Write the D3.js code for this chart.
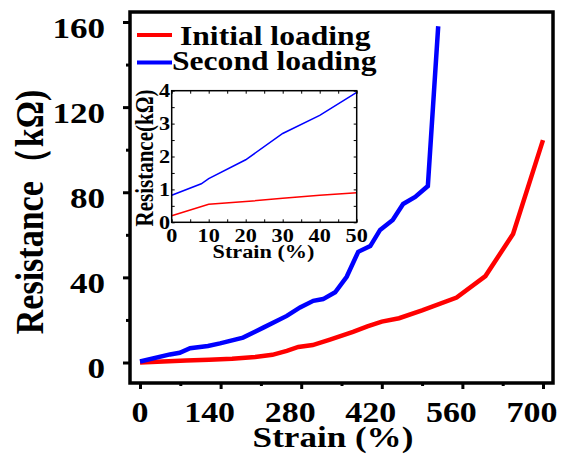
<!DOCTYPE html>
<html>
<head>
<meta charset="utf-8">
<script src="https://cdn.jsdelivr.net/npm/d3@7/dist/d3.min.js"></script>
<style>
  html, body { margin: 0; padding: 0; background: #fff; }
  svg { display: block; }
  text { font-family: "Liberation Serif", "Times New Roman", serif; font-weight: bold; fill: #000; }
</style>
</head>
<body>
<svg id="chart" width="564" height="457"></svg>
<script>
// Resistance vs. strain, initial and second loading
const seriesNames = ["Initial loading", "Second loading"];
const seriesColors = ["#ff0000", "#0000ff"];

const initialStrain = [0, 40, 80, 120, 160, 200, 230, 255, 275, 300, 330, 370, 395, 420, 450, 490, 550, 600, 648, 700];
const initialRes    = [0, 0.5, 0.9, 1.3, 1.8, 2.6, 3.6, 5.5, 7.3, 8.2, 10.8, 14.4, 17.0, 19.2, 20.8, 24.5, 30.5, 40.6, 60.4, 104.5];

const secondStrain = [0, 52, 69, 87, 118, 139, 179, 215, 255, 278, 301, 318, 339, 359, 379, 400, 417, 439, 457, 478, 500, 518];
const secondRes    = [0.5, 3.8, 4.6, 6.7, 7.8, 9.0, 11.7, 16.5, 21.9, 25.9, 29.0, 29.8, 33.0, 40.3, 52.0, 54.7, 62.3, 67.0, 74.5, 77.8, 82.9, 158];

const xTicks = [0, 140, 280, 420, 560, 700];
const yTicks = [0, 40, 80, 120, 160];

// inset: first 50 % of strain, resistance in kΩ
const insetStrain1 = [0, 10, 20, 30, 40, 50];
const insetRes1    = [0.2, 0.55, 0.63, 0.73, 0.82, 0.9];
const insetStrain2 = [0, 8, 10, 20, 30, 40, 50];
const insetRes2    = [0.82, 1.17, 1.33, 1.9, 2.7, 3.25, 3.95];
const insetXTicks = [0, 10, 20, 30, 40, 50];
const insetYTicks = [0, 1, 2, 3, 4];

const svg = d3.select("#chart");
const SX = 1.17; // horizontal glyph stretch

function label(g, x, y, str, size, anchor, rot) {
  return g.append("text")
    .attr("transform", `translate(${x},${y}) scale(${SX},1)` + (rot ? " rotate(-90)" : ""))
    .attr("font-size", size)
    .attr("text-anchor", anchor)
    .text(str);
}

// ---------- main panel ----------
const box = { l: 130, r: 553, t: 12, b: 383 };
const x = d3.scaleLinear().domain([-17.4, 717.4]).range([box.l, box.r]);
const y = d3.scaleLinear().domain([-9.63, 164.7]).range([box.b, box.t]);

const main = svg.append("g");

// outward ticks on left and bottom (major + minor)
const leftAxis = d3.axisLeft(y).tickValues(yTicks).tickSize(7).tickFormat("");
const leftMinor = d3.axisLeft(y).tickValues([20, 60, 100, 140]).tickSize(4).tickFormat("");
const botAxis = d3.axisBottom(x).tickValues(xTicks).tickSize(6).tickFormat("");
const botMinor = d3.axisBottom(x).tickValues([70, 210, 350, 490, 630]).tickSize(3).tickFormat("");

[[leftAxis, `translate(${box.l},0)`], [leftMinor, `translate(${box.l},0)`],
 [botAxis, `translate(0,${box.b})`], [botMinor, `translate(0,${box.b})`]].forEach(([ax, tr]) => {
  const g = main.append("g").attr("transform", tr).call(ax);
  g.select(".domain").remove();
  g.selectAll("line").attr("stroke", "#000").attr("stroke-width", 3);
});

// tick labels (x labels sit slightly left of their ticks, except zero)
yTicks.forEach(v => label(main, 105, y(v) + 15.5, String(v), 30, "end"));
xTicks.forEach(v => label(main, x(v) - (v === 0 ? 0 : 11), 422, String(v), 29, "middle"));

// axis titles
label(main, 333, 447, "Strain (%)", 30, "middle");
label(main, 43, 212, "Resistance（kΩ)", 34, "middle", true);

// series lines
const line = d3.line().x(d => x(d[0])).y(d => y(d[1]));
const mainData = [d3.zip(initialStrain, initialRes), d3.zip(secondStrain, secondRes)];
mainData.forEach((d, i) => {
  main.append("path").datum(d)
    .attr("d", line)
    .attr("fill", "none")
    .attr("stroke", seriesColors[i])
    .attr("stroke-width", 4.5)
    .attr("stroke-linejoin", "miter");
});

// frame
main.append("rect")
  .attr("x", box.l).attr("y", box.t)
  .attr("width", box.r - box.l).attr("height", box.b - box.t)
  .attr("fill", "none").attr("stroke", "#000").attr("stroke-width", 3.5);

// legend
const legY = [35, 62.5];
const legTextX = [180, 172];
const legBase = [45, 70];
seriesNames.forEach((name, i) => {
  main.append("line")
    .attr("x1", 137).attr("x2", 172).attr("y1", legY[i]).attr("y2", legY[i])
    .attr("stroke", seriesColors[i]).attr("stroke-width", 4);
  label(main, legTextX[i], legBase[i], name, 27, "start");
});

// ---------- inset ----------
const ib = { l: 171.7, r: 356.7, t: 90.7, b: 222.3 };
const ix = d3.scaleLinear().domain([0, 50]).range([ib.l, ib.r]);
const iy = d3.scaleLinear().domain([0, 4]).range([ib.b, ib.t]);
const inset = svg.append("g");

inset.append("rect")
  .attr("x", ib.l).attr("y", ib.t).attr("width", ib.r - ib.l).attr("height", ib.b - ib.t)
  .attr("fill", "#fff");

// inward ticks on all four sides
const ixT = d3.range(0, 50.01, 5);
const iyT = d3.range(0, 4.01, 0.5);
const tk = [
  [d3.axisBottom(ix).tickValues(ixT), `translate(0,${ib.t})`],
  [d3.axisTop(ix).tickValues(ixT), `translate(0,${ib.b})`],
  [d3.axisRight(iy).tickValues(iyT), `translate(${ib.l},0)`],
  [d3.axisLeft(iy).tickValues(iyT), `translate(${ib.r},0)`]
];
tk.forEach(([ax, tr]) => {
  const g = inset.append("g").attr("transform", tr).call(ax.tickSize(3).tickFormat(""));
  g.select(".domain").remove();
  g.selectAll("line").attr("stroke", "#000").attr("stroke-width", 1);
});

const iline = d3.line().x(d => ix(d[0])).y(d => iy(d[1]));
[d3.zip(insetStrain1, insetRes1), d3.zip(insetStrain2, insetRes2)].forEach((d, i) => {
  inset.append("path").datum(d)
    .attr("d", iline)
    .attr("fill", "none")
    .attr("stroke", seriesColors[i])
    .attr("stroke-width", 1.5);
});

inset.append("rect")
  .attr("x", ib.l).attr("y", ib.t).attr("width", ib.r - ib.l).attr("height", ib.b - ib.t)
  .attr("fill", "none").attr("stroke", "#000").attr("stroke-width", 1.5);

insetYTicks.forEach(v => label(inset, 170, iy(v) + 6.5, String(v), 19, "end"));
insetXTicks.forEach(v => label(inset, ix(v), 242, String(v), 19, "middle"));
label(inset, 263.5, 258, "Strain (%)", 19, "middle");
label(inset, 153, 158, "Resistance(kΩ)", 21, "middle", true);
</script>
</body>
</html>
